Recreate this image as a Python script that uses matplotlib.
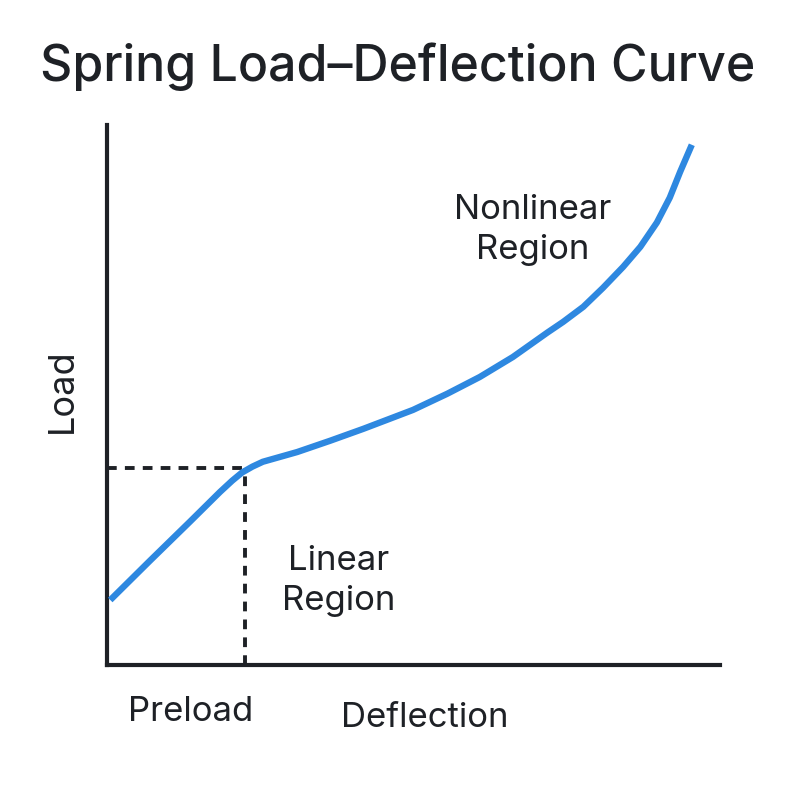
import matplotlib.pyplot as plt

plt.rcParams['font.family'] = ['Inter', 'DejaVu Sans']

# curve (deflection, load), axes span 0..10 on both
deflection = [0.05, 0.70, 1.35, 1.84, 2.04, 2.20, 2.37, 2.54, 2.82, 3.10,
              3.64, 4.18, 4.62, 4.99, 5.55, 6.08, 6.62, 7.18, 7.44, 7.77,
              8.09, 8.42, 8.70, 8.97, 9.18, 9.35, 9.54]
load = [1.20, 1.93, 2.65, 3.20, 3.41, 3.56, 3.67, 3.76, 3.85, 3.94,
        4.15, 4.37, 4.56, 4.72, 5.02, 5.33, 5.70, 6.15, 6.35, 6.63,
        6.98, 7.37, 7.74, 8.19, 8.65, 9.13, 9.63]

preload_x = 2.25
preload_y = 3.65

text_col = '#1e2126'
blue = '#2e88e0'

fig = plt.figure(figsize=(8, 8), dpi=100)
ax = fig.add_axes([0.134, 0.169, 0.766, 0.675])

ax.plot(deflection, load, color=blue, lw=4.6, solid_capstyle='butt',
        solid_joinstyle='round', zorder=3)

# preload guide lines
ax.plot([0, preload_x], [preload_y, preload_y], color=text_col, lw=2.8,
        dashes=(2.5, 2.1), zorder=2)
ax.plot([preload_x, preload_x], [0, preload_y], color=text_col, lw=2.8,
        dashes=(2.5, 2.1), zorder=2)

ax.set_xlim(0, 10)
ax.set_ylim(0, 10)
ax.set_xticks([])
ax.set_yticks([])
for s in ['top', 'right']:
    ax.spines[s].set_visible(False)
for s in ['left', 'bottom']:
    ax.spines[s].set_linewidth(3)
    ax.spines[s].set_color(text_col)

fig.text(0.497, 0.917, 'Spring Load\u2013Deflection Curve', ha='center',
         va='center', fontsize=36, fontweight='medium', color=text_col)
fig.text(0.078, 0.512, 'Load', rotation=90, ha='center', va='center',
         fontsize=26, color=text_col)
fig.text(0.238, 0.11, 'Preload', ha='center', va='center', fontsize=25,
         color=text_col)
fig.text(0.531, 0.102, 'Deflection', ha='center', va='center', fontsize=25,
         color=text_col)

ax.text(3.77, 1.56, 'Linear\nRegion', ha='center', va='center', fontsize=25,
        color=text_col, linespacing=1.32)
ax.text(6.95, 8.06, 'Nonlinear\nRegion', ha='center', va='center',
        fontsize=25, color=text_col, linespacing=1.32)

fig.savefig('out.png', dpi=100, facecolor='white')
